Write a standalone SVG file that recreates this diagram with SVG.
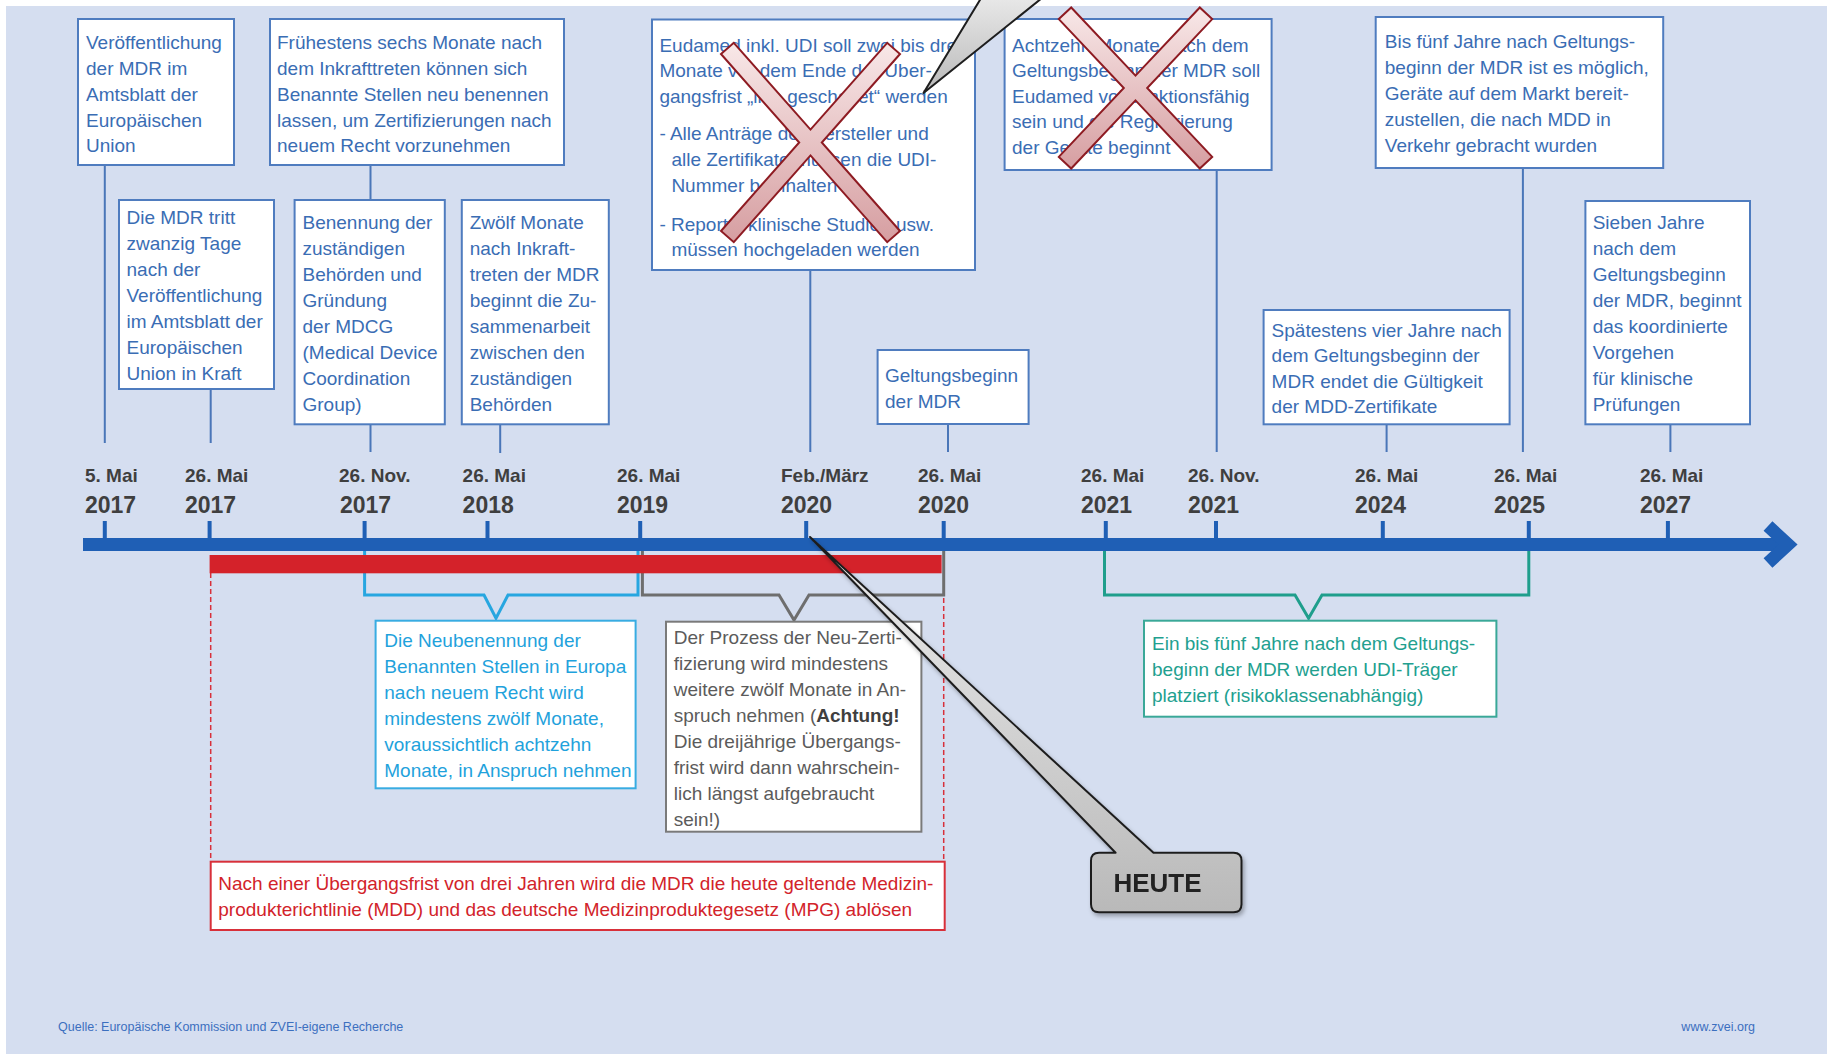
<svg xmlns="http://www.w3.org/2000/svg" width="1827" height="1054" viewBox="0 0 1827 1054">
  <defs>
    <style>
      .bg{fill:#d5def0}
      .box{fill:#ffffff;stroke:#4f7cbf;stroke-width:2}
      .t{font-family:"Liberation Sans",Arial,sans-serif;font-size:19px;fill:#3a6db4}
      .conn{stroke:#4a76b8;stroke-width:2;fill:none}
      .tick{stroke:#1f5fb5;stroke-width:4}
      .axis{fill:#1f5fb5}
      .m{font-family:"Liberation Sans",Arial,sans-serif;font-weight:bold;font-size:19px;fill:#3f3f3f}
      .y{font-family:"Liberation Sans",Arial,sans-serif;font-weight:bold;font-size:23px;fill:#3f3f3f}
      .cross{fill:url(#crossFill);stroke:#8e1b22;stroke-width:2;stroke-linejoin:miter}
      .callout{fill:url(#calloutFill);stroke:#1e1e1e;stroke-width:2;stroke-linejoin:round}
      .foot{font-family:"Liberation Sans",Arial,sans-serif;font-size:12.5px;fill:#3c6fbf}
    </style>
    <linearGradient id="crossFill" x1="0" y1="0" x2="0" y2="1">
      <stop offset="0" stop-color="#f8e8e8"/>
      <stop offset="1" stop-color="#d69ea1"/>
    </linearGradient>
    <linearGradient id="calloutFill" x1="0" y1="0" x2="0" y2="1">
      <stop offset="0" stop-color="#ececec"/>
      <stop offset="1" stop-color="#b9b9b9"/>
    </linearGradient>
    <filter id="shadow" x="-10%" y="-10%" width="130%" height="130%">
      <feDropShadow dx="2" dy="3" stdDeviation="2" flood-color="#000" flood-opacity="0.3"/>
    </filter>
  </defs>

  <!-- canvas -->
  <rect x="0" y="0" width="1827" height="1054" fill="#ffffff"/>
  <rect class="bg" x="6" y="6" width="1821" height="1048"/>

  <!-- connectors: box leaders, period brackets, transition markers -->
  <g id="connectors">
    <path class="conn" d="M104.8,165V443M210.7,389V443M370.5,165V200M370.5,424V452M500.2,424V453M810.3,270V452M948,424V452M1216.7,170V452M1386.6,424V452M1522.9,168V452M1670.4,424V452"/>
    <path d="M210.7,573V861.7M943.7,598V861.7" fill="none" stroke="#d8303a" stroke-width="1.5" stroke-dasharray="5 3"/>
    <path d="M364.6,551V595H484L496,618.3L508,595H638V551" fill="none" stroke="#27a6e0" stroke-width="3"/>
    <path d="M642.4,551V595H779L794,620L809,595H943.7V551" fill="none" stroke="#6e6e6e" stroke-width="3"/>
    <path d="M1104.5,551V595H1295L1308.6,618.3L1322,595H1528.8V551" fill="none" stroke="#1f9e8c" stroke-width="3"/>
  </g>

  <!-- time axis -->
  <g id="axis">
    <path class="tick" d="M104.8,521V545M209.6,521V545M364.6,521V545M487.5,521V545M640.2,521V545M806.2,521V545M943.7,521V545M1105.8,521V545M1216,521V545M1382.8,521V545M1528.8,521V545M1667.9,521V545"/>
    <rect class="axis" x="83" y="538" width="1702" height="13"/>
    <polyline points="1768,526 1788,544.5 1768,563" fill="none" stroke="#1f5fb5" stroke-width="13" stroke-linejoin="miter"/>
    <rect x="209.6" y="555" width="732" height="18.3" fill="#d4222a"/>
  </g>

  <!-- date labels -->
  <g id="dates">
    <text class="m" x="85" y="482">5. Mai</text><text class="y" x="85" y="513">2017</text>
    <text class="m" x="185" y="482">26. Mai</text><text class="y" x="185" y="513">2017</text>
    <text class="m" x="339" y="482">26. Nov.</text><text class="y" x="340" y="513">2017</text>
    <text class="m" x="462.6" y="482">26. Mai</text><text class="y" x="462.6" y="513">2018</text>
    <text class="m" x="617" y="482">26. Mai</text><text class="y" x="617" y="513">2019</text>
    <text class="m" x="781" y="482">Feb./März</text><text class="y" x="781" y="513">2020</text>
    <text class="m" x="918" y="482">26. Mai</text><text class="y" x="918" y="513">2020</text>
    <text class="m" x="1081" y="482">26. Mai</text><text class="y" x="1081" y="513">2021</text>
    <text class="m" x="1188" y="482">26. Nov.</text><text class="y" x="1188" y="513">2021</text>
    <text class="m" x="1355" y="482">26. Mai</text><text class="y" x="1355" y="513">2024</text>
    <text class="m" x="1494" y="482">26. Mai</text><text class="y" x="1494" y="513">2025</text>
    <text class="m" x="1640" y="482">26. Mai</text><text class="y" x="1640" y="513">2027</text>
  </g>

  <!-- milestone boxes -->
  <g id="n-publication">
    <rect class="box" x="78" y="19" width="156" height="146"/>
    <text class="t"><tspan x="86" y="49.3">Veröffentlichung</tspan><tspan x="86" y="75">der MDR im</tspan><tspan x="86" y="100.8">Amtsblatt der</tspan><tspan x="86" y="126.5">Europäischen</tspan><tspan x="86" y="152.3">Union</tspan></text>
  </g>
  <g id="n-notified-bodies">
    <rect class="box" x="270" y="19" width="294" height="146"/>
    <text class="t"><tspan x="277" y="49.3">Frühestens sechs Monate nach</tspan><tspan x="277" y="75">dem Inkrafttreten können sich</tspan><tspan x="277" y="100.8">Benannte Stellen neu benennen</tspan><tspan x="277" y="126.5">lassen, um Zertifizierungen nach</tspan><tspan x="277" y="152.3">neuem Recht vorzunehmen</tspan></text>
  </g>
  <g id="n-entry-into-force">
    <rect class="box" x="119" y="200" width="155" height="189"/>
    <text class="t"><tspan x="126.5" y="224">Die MDR tritt</tspan><tspan x="126.5" y="250">zwanzig Tage</tspan><tspan x="126.5" y="276">nach der</tspan><tspan x="126.5" y="302">Veröffentlichung</tspan><tspan x="126.5" y="328">im Amtsblatt der</tspan><tspan x="126.5" y="354">Europäischen</tspan><tspan x="126.5" y="380">Union in Kraft</tspan></text>
  </g>
  <g id="n-authorities">
    <rect class="box" x="294.6" y="200" width="150.2" height="224.3"/>
    <text class="t"><tspan x="302.5" y="229">Benennung der</tspan><tspan x="302.5" y="255">zuständigen</tspan><tspan x="302.5" y="281">Behörden und</tspan><tspan x="302.5" y="307">Gründung</tspan><tspan x="302.5" y="333">der MDCG</tspan><tspan x="302.5" y="359">(Medical Device</tspan><tspan x="302.5" y="385">Coordination</tspan><tspan x="302.5" y="411">Group)</tspan></text>
  </g>
  <g id="n-cooperation">
    <rect class="box" x="461.8" y="200" width="147" height="224.3"/>
    <text class="t"><tspan x="469.7" y="229">Zwölf Monate</tspan><tspan x="469.7" y="255">nach Inkraft-</tspan><tspan x="469.7" y="281">treten der MDR</tspan><tspan x="469.7" y="307">beginnt die Zu-</tspan><tspan x="469.7" y="333">sammenarbeit</tspan><tspan x="469.7" y="359">zwischen den</tspan><tspan x="469.7" y="385">zuständigen</tspan><tspan x="469.7" y="411">Behörden</tspan></text>
  </g>
  <g id="n-eudamed-live">
    <rect class="box" x="652" y="19.5" width="323" height="250.5"/>
    <text class="t"><tspan x="659.4" y="51.5">Eudamed inkl. UDI soll zwei bis drei</tspan><tspan x="659.4" y="77">Monate vor dem Ende der Über-</tspan><tspan x="659.4" y="102.5">gangsfrist „live geschaltet“ werden</tspan><tspan x="659.4" y="140">- Alle Anträge der Hersteller und</tspan><tspan x="671.4" y="166">alle Zertifikate müssen die UDI-</tspan><tspan x="671.4" y="192">Nummer beinhalten</tspan><tspan x="659.4" y="230.5">- Reports, klinische Studien usw.</tspan><tspan x="671.4" y="256">müssen hochgeladen werden</tspan></text>
  </g>
  <g id="n-eudamed-full">
    <rect class="box" x="1004.6" y="19" width="267" height="151"/>
    <text class="t"><tspan x="1012" y="51.5">Achtzehn Monate nach dem</tspan><tspan x="1012" y="77">Geltungsbeginn der MDR soll</tspan><tspan x="1012" y="102.5">Eudamed voll funktionsfähig</tspan><tspan x="1012" y="128">sein und die Registrierung</tspan><tspan x="1012" y="153.5">der Geräte beginnt</tspan></text>
  </g>
  <g id="n-application">
    <rect class="box" x="877.6" y="350" width="151" height="74"/>
    <text class="t"><tspan x="885" y="381.5">Geltungsbeginn</tspan><tspan x="885" y="407.5">der MDR</tspan></text>
  </g>
  <g id="n-mdd-market">
    <rect class="box" x="1375.7" y="17" width="287.5" height="151"/>
    <text class="t"><tspan x="1384.8" y="48">Bis fünf Jahre nach Geltungs-</tspan><tspan x="1384.8" y="74">beginn der MDR ist es möglich,</tspan><tspan x="1384.8" y="100">Geräte auf dem Markt bereit-</tspan><tspan x="1384.8" y="125.5">zustellen, die nach MDD in</tspan><tspan x="1384.8" y="151.5">Verkehr gebracht wurden</tspan></text>
  </g>
  <g id="n-mdd-certificates">
    <rect class="box" x="1263.6" y="310" width="246" height="114.3"/>
    <text class="t"><tspan x="1271.6" y="336.5">Spätestens vier Jahre nach</tspan><tspan x="1271.6" y="362">dem Geltungsbeginn der</tspan><tspan x="1271.6" y="387.5">MDR endet die Gültigkeit</tspan><tspan x="1271.6" y="413">der MDD-Zertifikate</tspan></text>
  </g>
  <g id="n-clinical">
    <rect class="box" x="1585.4" y="201" width="164.6" height="223.3"/>
    <text class="t"><tspan x="1592.7" y="229">Sieben Jahre</tspan><tspan x="1592.7" y="255">nach dem</tspan><tspan x="1592.7" y="281">Geltungsbeginn</tspan><tspan x="1592.7" y="307">der MDR, beginnt</tspan><tspan x="1592.7" y="333">das koordinierte</tspan><tspan x="1592.7" y="359">Vorgehen</tspan><tspan x="1592.7" y="385">für klinische</tspan><tspan x="1592.7" y="411">Prüfungen</tspan></text>
  </g>

  <!-- period boxes below the axis -->
  <g id="n-redesignation">
    <rect x="375.6" y="620.7" width="260" height="167.6" fill="#fff" stroke="#38ace2" stroke-width="2"/>
    <text class="t" style="fill:#1fa2dc"><tspan x="384.3" y="647.3">Die Neubenennung der</tspan><tspan x="384.3" y="673.3">Benannten Stellen in Europa</tspan><tspan x="384.3" y="699.3">nach neuem Recht wird</tspan><tspan x="384.3" y="725.3">mindestens zwölf Monate,</tspan><tspan x="384.3" y="751.3">voraussichtlich achtzehn</tspan><tspan x="384.3" y="777.3">Monate, in Anspruch nehmen</tspan></text>
  </g>
  <g id="n-recertification">
    <rect x="666" y="621.7" width="255.4" height="210" fill="#fff" stroke="#7a7a7a" stroke-width="2"/>
    <text class="t" style="fill:#5b5b5b"><tspan x="673.7" y="644">Der Prozess der Neu-Zerti-</tspan><tspan x="673.7" y="670">fizierung wird mindestens</tspan><tspan x="673.7" y="696">weitere zwölf Monate in An-</tspan><tspan x="673.7" y="722">spruch nehmen (<tspan font-weight="bold" fill="#3f3f3f">Achtung!</tspan></tspan><tspan x="673.7" y="748">Die dreijährige Übergangs-</tspan><tspan x="673.7" y="774">frist wird dann wahrschein-</tspan><tspan x="673.7" y="800">lich längst aufgebraucht</tspan><tspan x="673.7" y="826">sein!)</tspan></text>
  </g>
  <g id="n-udi-carrier">
    <rect x="1144" y="620.7" width="352.4" height="96" fill="#fff" stroke="#3aa898" stroke-width="2"/>
    <text class="t" style="fill:#22a08f"><tspan x="1152" y="650">Ein bis fünf Jahre nach dem Geltungs-</tspan><tspan x="1152" y="675.8">beginn der MDR werden UDI-Träger</tspan><tspan x="1152" y="701.5">platziert (risikoklassenabhängig)</tspan></text>
  </g>
  <g id="n-transition">
    <rect x="210.7" y="861.7" width="734" height="68.3" fill="#fff" stroke="#d8303a" stroke-width="2"/>
    <text class="t" style="fill:#d2232a"><tspan x="218.3" y="890">Nach einer Übergangsfrist von drei Jahren wird die MDR die heute geltende Medizin-</tspan><tspan x="218.3" y="915.8">produkterichtlinie (MDD) und das deutsche Medizinproduktegesetz (MPG) ablösen</tspan></text>
  </g>

  <!-- strike-through marks -->
  <g id="cross-eudamed-live">
    <polygon class="cross" points="721,54 733.8,42.8 810.5,129.6 887.2,42.8 900,54 821.8,142.5 900,231 887.2,242.2 810.5,155.4 733.8,242.2 721,231 799.2,142.5"/>
  </g>
  <g id="cross-eudamed-full">
    <polygon class="cross" points="1058.8,19.1 1071.2,7.5 1135.5,75.6 1199.8,7.5 1212.2,19.1 1147.2,88 1212.2,156.9 1199.8,168.5 1135.5,100.4 1071.2,168.5 1058.8,156.9 1123.8,88"/>
  </g>

  <!-- callouts -->
  <g id="callout-top">
    <path class="callout" d="M986,-10L923.5,93L1052,-10Z"/>
  </g>
  <g id="callout-heute" filter="url(#shadow)">
    <path class="callout" d="M1099,852.7H1115.6L810,537L1153.5,852.7H1233.5Q1241.5,852.7 1241.5,860.7V904.3Q1241.5,912.3 1233.5,912.3H1099Q1091,912.3 1091,904.3V860.7Q1091,852.7 1099,852.7Z"/>
    <text x="1113.4" y="891.7" font-family="'Liberation Sans',Arial,sans-serif" font-weight="bold" font-size="26" fill="#222222">HEUTE</text>
  </g>

  <!-- footer -->
  <g id="footer">
    <text class="foot" x="58" y="1031">Quelle: Europäische Kommission und ZVEI-eigene Recherche</text>
    <text class="foot" x="1755" y="1031" text-anchor="end">www.zvei.org</text>
  </g>
</svg>
